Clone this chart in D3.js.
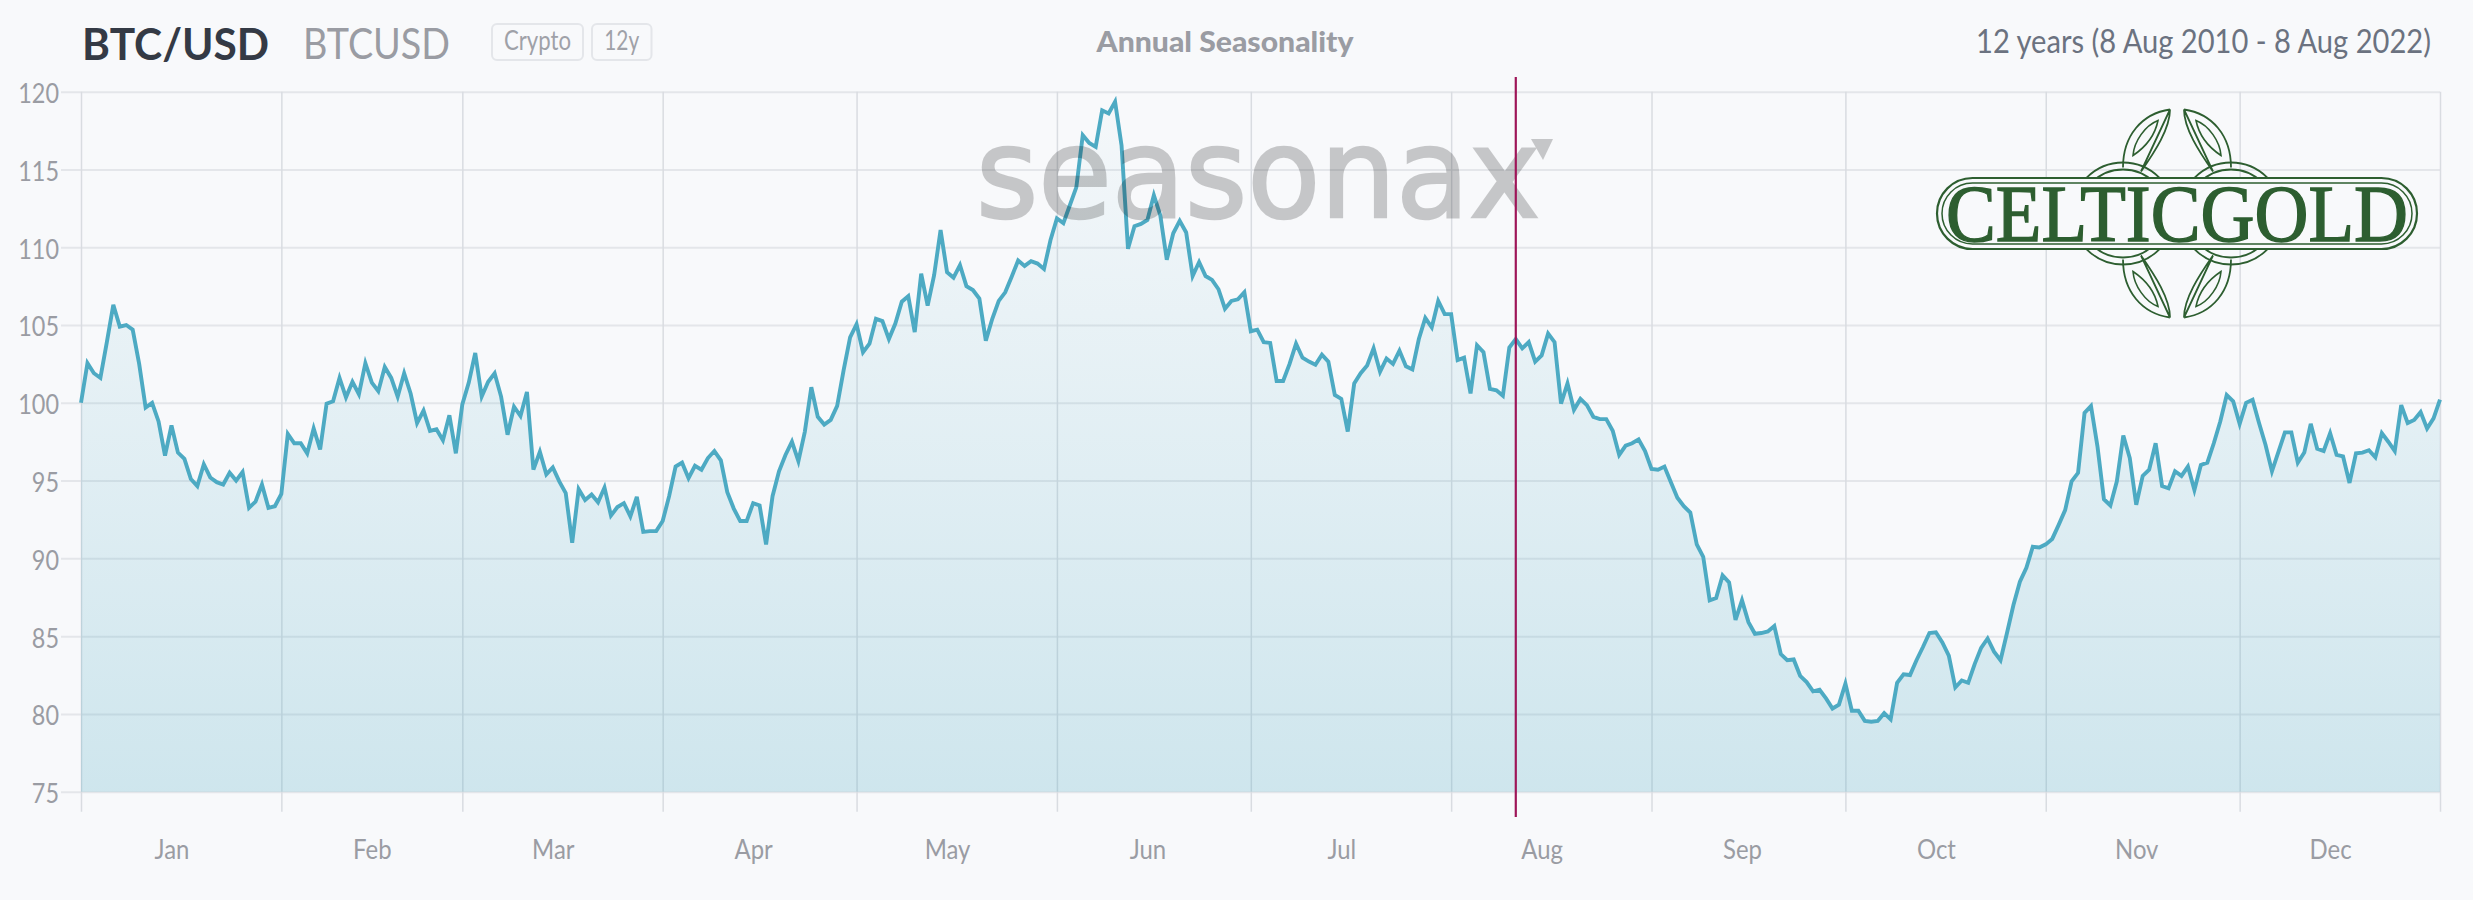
<!DOCTYPE html>
<html>
<head>
<meta charset="utf-8">
<title>BTC/USD Annual Seasonality</title>
<script src="https://cdn.jsdelivr.net/npm/d3@7"></script>
<style>
    html, body { margin: 0; padding: 0; background: #f8f9fb; }
    svg { display: block; }
    text { font-family: Lato, "Open Sans", sans-serif; }
    .axis text { fill: #9a9ca3; font-size: 26px; }
    .axis .domain { display: none; }
</style>
</head>
<body>
<div id="chart"></div>
<script>
// one value per day of the year
const seasonalValues = [
    100.0, 102.55, 101.9, 101.6, 103.9, 106.3, 104.9, 105.0, 104.7, 102.5, 99.7, 100.0, 98.8, 96.6, 98.55, 96.8,
    96.4, 95.1, 94.65, 96.05, 95.2, 94.9, 94.75, 95.5, 95.0, 95.55, 93.25, 93.65, 94.75, 93.25, 93.35,
    94.15, 98.0, 97.4, 97.4, 96.75, 98.35, 97.0, 99.95, 100.1, 101.6, 100.35, 101.35, 100.55, 102.55, 101.3,
    100.75, 102.3, 101.6, 100.4, 101.9, 100.6, 98.7, 99.5, 98.2, 98.3, 97.6, 99.2, 96.75,
    99.9, 101.3, 103.2, 100.4, 101.35, 101.9, 100.4, 97.95, 99.75, 99.15, 100.7, 95.7, 96.85, 95.4, 95.85, 94.95,
    94.2, 91.0, 94.45, 93.75, 94.1, 93.6, 94.55, 92.75, 93.3, 93.55, 92.7, 93.95, 91.7, 91.75, 91.75,
    92.4, 94.0, 95.9, 96.15, 95.15, 95.95, 95.7, 96.45, 96.9, 96.3, 94.25, 93.2, 92.4, 92.4, 93.55,
    93.4, 90.9, 94.0, 95.6, 96.65, 97.5, 96.25, 98.15, 101.0, 99.1, 98.6, 98.9, 99.8, 102.1, 104.2,
    105.05, 103.25, 103.8, 105.4, 105.25, 104.1, 105.1, 106.5, 106.85, 104.55, 108.3, 106.25, 108.2, 111.1, 108.4, 108.05,
    108.85, 107.5, 107.25, 106.7, 104.0, 105.4, 106.55, 107.1, 108.1, 109.15, 108.8, 109.1, 108.95, 108.6, 110.45,
    111.85, 111.55, 112.7, 113.85, 117.2, 116.7, 116.45, 118.8, 118.6, 119.35, 116.55, 109.9, 111.35, 111.5, 111.75,
    113.35, 112.05, 109.2, 110.9, 111.7, 110.95, 108.15, 109.05, 108.15, 107.9, 107.3, 106.05, 106.55, 106.65, 107.1,
    104.6, 104.7, 103.9, 103.85, 101.4, 101.4, 102.5, 103.8, 102.9, 102.65, 102.45, 103.1, 102.65, 100.5, 100.25, 98.15,
    101.25, 101.9, 102.4, 103.5, 102.0, 102.85, 102.5, 103.35, 102.35, 102.15, 104.1, 105.45, 104.85, 106.55, 105.7,
    105.7, 102.75, 102.9, 100.6, 103.7, 103.25, 100.9, 100.8, 100.45, 103.55, 104.1, 103.5, 103.9, 102.65, 103.05, 104.45,
    103.9, 99.95, 101.25, 99.55, 100.25, 99.85, 99.1, 98.95, 98.95, 98.2, 96.65, 97.25, 97.4, 97.65, 96.9,
    95.75, 95.7, 95.9, 94.9, 93.9, 93.35, 92.95, 90.9, 90.1, 87.3, 87.45, 88.9, 88.45, 86.05, 87.3,
    85.9, 85.15, 85.2, 85.3, 85.65, 83.85, 83.45, 83.5, 82.45, 82.05, 81.45, 81.55, 81.0, 80.35, 80.6,
    81.95, 80.2, 80.2, 79.55, 79.5, 79.55, 80.05, 79.65, 82.0, 82.55, 82.5, 83.45, 84.3, 85.2, 85.25, 84.6,
    83.75, 81.7, 82.15, 82.0, 83.2, 84.25, 84.85, 84.0, 83.45, 85.2, 87.0, 88.5, 89.4, 90.75, 90.7,
    90.9, 91.25, 92.15, 93.1, 94.95, 95.5, 99.35, 99.8, 97.2, 93.8, 93.4, 94.95, 97.9, 96.45, 93.45,
    95.3, 95.7, 97.4, 94.65, 94.5, 95.6, 95.3, 95.9, 94.4, 96.0, 96.15, 97.4, 98.8, 100.5, 100.1,
    98.65, 100.0, 100.2, 98.7, 97.3, 95.6, 96.85, 98.1, 98.1, 96.15, 96.8, 98.65, 97.05, 96.9, 98.05, 96.65,
    96.55, 94.85, 96.75, 96.8, 96.95, 96.5, 98.05, 97.5, 96.9, 99.85, 98.7, 98.9, 99.4, 98.35, 99.0, 100.2
];

const monthNames = ['Jan', 'Feb', 'Mar', 'Apr', 'May', 'Jun', 'Jul', 'Aug', 'Sep', 'Oct', 'Nov', 'Dec'];
const monthStartDays = [0, 31, 59, 90, 120, 151, 181, 212, 243, 273, 304, 334, 365];
const monthLabelDays = [14, 45, 73, 104, 134, 165, 195, 226, 257, 287, 318, 348];
const yTicks = [75, 80, 85, 90, 95, 100, 105, 110, 115, 120];
const markerDay = 222;

const width = 2473;
const height = 900;

const svg = d3.select('#chart').append('svg')
    .attr('width', width)
    .attr('height', height);

const x = d3.scaleLinear().domain([0, 365]).range([81, 2440]);
const y = d3.scaleLinear().domain([75, 120]).range([791.7, 91.7]);

// the original font is narrower than Lato, squeeze the glyphs a bit
function squeeze(selection, factor) {
    selection.each(function() {
        d3.select(this)
            .attr('textLength', this.getComputedTextLength() * factor)
            .attr('lengthAdjust', 'spacingAndGlyphs');
    });
}

const gradient = svg.append('defs').append('linearGradient')
    .attr('id', 'areaFill')
    .attr('x1', 0).attr('y1', 0).attr('x2', 0).attr('y2', 1);
gradient.append('stop').attr('offset', '0%').attr('stop-color', '#4ba9c2').attr('stop-opacity', 0.02);
gradient.append('stop').attr('offset', '100%').attr('stop-color', '#4ba9c2').attr('stop-opacity', 0.24);

// axes, with their ticks stretched out into the grid
const yAxis = svg.append('g')
    .attr('class', 'axis')
    .attr('transform', `translate(${x(0)},0)`)
    .call(d3.axisLeft(y).tickValues(yTicks).tickSize(20).tickPadding(2));
yAxis.selectAll('.tick line')
    .attr('x1', -20)
    .attr('x2', x(365) - x(0))
    .attr('stroke', '#e4e6ea')
    .attr('stroke-width', 2);
yAxis.selectAll('.tick text').attr('dy', '0.42em').call(squeeze, 0.9);

const xGrid = svg.append('g')
    .attr('class', 'axis')
    .attr('transform', `translate(0,${y(75)})`)
    .call(d3.axisBottom(x).tickValues(monthStartDays).tickSize(20).tickFormat(''));
xGrid.selectAll('.tick line')
    .attr('y1', y(120) - y(75))
    .attr('stroke', '#d9dce1')
    .attr('stroke-width', 1.5);

const xLabels = svg.append('g')
    .attr('class', 'axis')
    .attr('transform', `translate(0,${y(75)})`)
    .call(d3.axisBottom(x).tickValues(monthLabelDays).tickSize(0)
        .tickFormat((d, i) => monthNames[i]));
xLabels.selectAll('.tick text').attr('y', 49).attr('dy', '0.71em').call(squeeze, 0.92);

const area = d3.area()
    .x((d, i) => x(i))
    .y0(y(75))
    .y1(d => y(d));
const line = d3.line()
    .x((d, i) => x(i))
    .y(d => y(d));

svg.append('path')
    .datum(seasonalValues)
    .attr('d', area)
    .attr('fill', 'url(#areaFill)');
svg.append('path')
    .datum(seasonalValues)
    .attr('d', line)
    .attr('fill', 'none')
    .attr('stroke', '#4daac3')
    .attr('stroke-width', 3.9);

// seasonax watermark sits over the line
const watermark = svg.append('g').attr('opacity', 0.2);
watermark.append('text')
    .attr('x', 976)
    .attr('y', 217)
    .attr('textLength', 564)
    .attr('lengthAdjust', 'spacingAndGlyphs')
    .attr('stroke', '#000')
    .attr('stroke-width', 2.5)
    .style('font-family', '"DejaVu Sans"')
    .style('font-size', '124px')
    .text('seasonax');
watermark.append('path').attr('d', 'M1531,139 L1553,139 L1543,160 Z');

// today marker
svg.append('line')
    .attr('x1', x(markerDay)).attr('x2', x(markerDay))
    .attr('y1', 77).attr('y2', 817)
    .attr('stroke', '#9e1558')
    .attr('stroke-width', 2.2);

// header
const header = svg.append('g');
header.append('text').attr('x', 82).attr('y', 60)
    .attr('textLength', 187).attr('lengthAdjust', 'spacingAndGlyphs')
    .style('font-size', '44px').style('font-weight', 700).attr('fill', '#343a45').text('BTC/USD');
header.append('text').attr('x', 303).attr('y', 59)
    .attr('textLength', 147).attr('lengthAdjust', 'spacingAndGlyphs')
    .style('font-size', '42px').attr('fill', '#9a9ca3').text('BTCUSD');

[['Crypto', 492, 91, 67], ['12y', 592, 59.5, 35]].forEach(([label, bx, bw, tw]) => {
    header.append('rect')
        .attr('x', bx).attr('y', 24).attr('width', bw).attr('height', 36).attr('rx', 5)
        .attr('fill', 'none').attr('stroke', '#e4e6ea').attr('stroke-width', 2);
    header.append('text')
        .attr('x', bx + bw / 2).attr('y', 50).attr('text-anchor', 'middle')
        .attr('textLength', tw).attr('lengthAdjust', 'spacingAndGlyphs')
        .style('font-size', '26px').attr('fill', '#9fa1a8').text(label);
});

header.append('text').attr('x', 1225).attr('y', 52).attr('text-anchor', 'middle')
    .attr('textLength', 257).attr('lengthAdjust', 'spacingAndGlyphs')
    .style('font-size', '29px').style('font-weight', 900).attr('fill', '#9a9ca3').text('Annual Seasonality');
header.append('text').attr('x', 2431).attr('y', 53).attr('text-anchor', 'end')
    .attr('textLength', 455).attr('lengthAdjust', 'spacingAndGlyphs')
    .style('font-size', '32px').attr('fill', '#6b7280').text('12 years (8 Aug 2010 - 8 Aug 2022)');

// CelticGold logo
const logoGreen = '#2d5e30';
const logo = svg.append('g').attr('transform', 'translate(2177,213.5)');
[-54, 54].forEach(cx => {
    [51, 44].forEach(r => {
        logo.append('circle').attr('cx', cx).attr('cy', 0).attr('r', r)
            .attr('fill', 'none').attr('stroke', logoGreen).attr('stroke-width', 1.8);
    });
});
[[1, 1], [-1, 1], [1, -1], [-1, -1]].forEach(([sx, sy]) => {
    const petal = logo.append('g').attr('transform', `scale(${sx},${sy})`);
    petal.append('path')
        .attr('d', 'M-7,-104 C-35,-100 -54,-78 -54,-46 M-36,-42 C-22,-62 -7,-85 -7,-104 Z')
        .attr('fill', 'none').attr('stroke', logoGreen).attr('stroke-width', 1.8);
    petal.append('path')
        .attr('d', 'M-19,-93 C-32,-88 -43,-72 -44,-58 C-32,-66 -22,-78 -19,-93 Z')
        .attr('fill', 'none').attr('stroke', logoGreen).attr('stroke-width', 1.6);
});
logo.append('rect')
    .attr('x', -240).attr('y', -35.5).attr('width', 480).attr('height', 71).attr('rx', 35.5)
    .attr('fill', '#f8f9fb').attr('stroke', logoGreen).attr('stroke-width', 2.2);
logo.append('rect')
    .attr('x', -235).attr('y', -30.5).attr('width', 470).attr('height', 61).attr('rx', 30.5)
    .attr('fill', 'none').attr('stroke', logoGreen).attr('stroke-width', 1.5);
logo.append('text')
    .attr('x', -231).attr('y', 27)
    .attr('textLength', 462)
    .attr('lengthAdjust', 'spacingAndGlyphs')
    .attr('stroke', logoGreen)
    .attr('stroke-width', 1.4)
    .style('font-family', '"Liberation Serif"')
    .style('font-size', '80px')
    .attr('fill', logoGreen)
    .text('CELTICGOLD');
</script>
</body>
</html>
